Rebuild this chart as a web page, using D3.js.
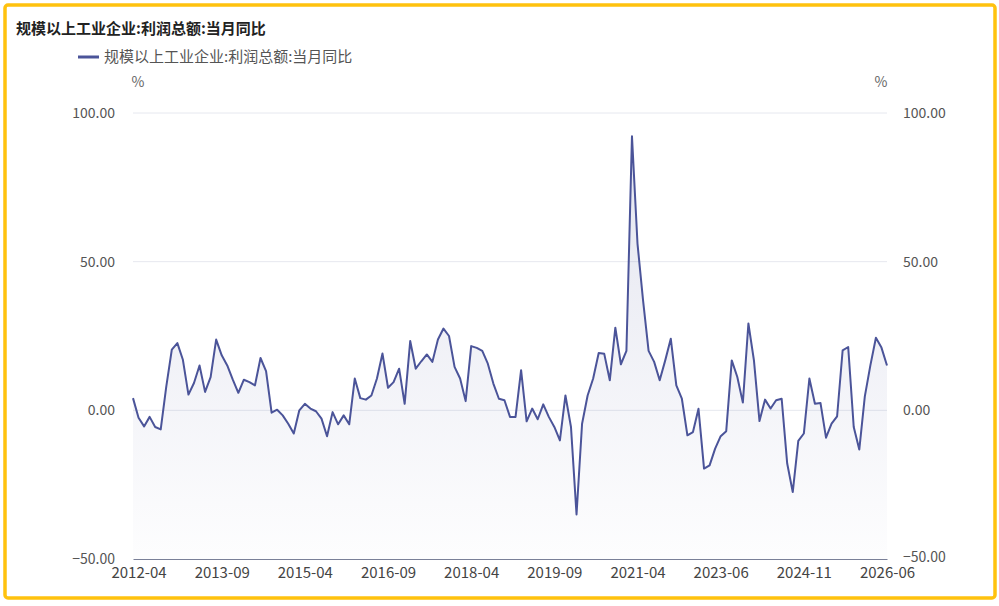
<!DOCTYPE html>
<html>
<head>
<meta charset="utf-8">
<script src="https://cdn.jsdelivr.net/npm/d3@7"></script>
<style>
  html, body { margin: 0; padding: 0; background: #fff; }
  svg { display: block; font-family: "Noto Sans CJK SC", "Noto Sans", sans-serif; }
</style>
</head>
<body>
<svg id="chart" width="999" height="606"></svg>
<script>
// 数据：月度，缺 1、2 月（以及 2022 下半年）
var seriesName = "规模以上工业企业:利润总额:当月同比";
var dates = [
  "2012-03","2012-04","2012-05","2012-06","2012-07","2012-08","2012-09","2012-10","2012-11","2012-12",
  "2013-03","2013-04","2013-05","2013-06","2013-07","2013-08","2013-09","2013-10","2013-11","2013-12",
  "2014-03","2014-04","2014-05","2014-06","2014-07","2014-08","2014-09","2014-10","2014-11","2014-12",
  "2015-03","2015-04","2015-05","2015-06","2015-07","2015-08","2015-09","2015-10","2015-11","2015-12",
  "2016-03","2016-04","2016-05","2016-06","2016-07","2016-08","2016-09","2016-10","2016-11","2016-12",
  "2017-03","2017-04","2017-05","2017-06","2017-07","2017-08","2017-09","2017-10","2017-11","2017-12",
  "2018-03","2018-04","2018-05","2018-06","2018-07","2018-08","2018-09","2018-10","2018-11","2018-12",
  "2019-03","2019-04","2019-05","2019-06","2019-07","2019-08","2019-09","2019-10","2019-11","2019-12",
  "2020-03","2020-04","2020-05","2020-06","2020-07","2020-08","2020-09","2020-10","2020-11","2020-12",
  "2021-03","2021-04","2021-05","2021-06","2021-07","2021-08","2021-09","2021-10","2021-11","2021-12",
  "2022-04","2022-05","2022-06",
  "2023-03","2023-04","2023-05","2023-06","2023-07","2023-08","2023-09","2023-10","2023-11","2023-12",
  "2024-03","2024-04","2024-05","2024-06","2024-07","2024-08","2024-09","2024-10","2024-11","2024-12",
  "2025-03","2025-04","2025-05","2025-06","2025-07","2025-08","2025-09","2025-10","2025-11","2025-12",
  "2026-03","2026-04","2026-05","2026-06"
];
var values = [
  4.1, -2.5, -5.4, -2.2, -5.6, -6.4, 8.0, 20.4, 22.6, 17.0,
  5.3, 9.2, 15.1, 6.2, 11.2, 23.8, 18.5, 15.1, 10.3, 5.9,
  10.3, 9.5, 8.4, 17.6, 13.2, -0.8, 0.2, -1.7, -4.5, -7.8,
  0.0, 2.2, 0.6, -0.3, -2.8, -8.7, -0.6, -4.7, -1.7, -4.7,
  10.7, 4.1, 3.6, 5.0, 10.7, 19.1, 7.6, 9.5, 14.0, 2.2,
  23.3, 14.0, 16.5, 18.8, 16.3, 23.8, 27.5, 25.0, 14.6, 10.7,
  3.1, 21.6, 21.0, 20.0, 15.7, 9.0, 3.9, 3.4, -2.2, -2.2,
  13.5, -3.7, 0.6, -3.0, 2.0, -2.2, -5.6, -10.1, 5.0, -5.6,
  -35.0, -4.5, 5.0, 10.7, 19.3, 19.0, 10.1, 27.8, 15.5, 20.0,
  92.2, 56.0, 37.0, 20.0, 16.3, 10.1, 16.8, 24.1, 8.4, 3.9,
  -8.4, -7.3, 0.5,
  -19.6, -18.5, -12.9, -8.7, -7.0, 16.8, 11.2, 2.6, 29.2, 16.8,
  -3.6, 3.6, 0.6, 3.4, 3.9, -17.9, -27.5, -10.3, -7.8, 10.7,
  2.2, 2.5, -9.2, -4.5, -2.0, 20.2, 21.3, -5.6, -13.2, 4.7,
  15.1, 24.4, 21.1, 15.1
];
var yTicks = [-50, 0, 50, 100];
var labelStep = 15;   // 每 15 个点一个横轴标签

var svg = d3.select("#chart");
var lineColor = "#4b5499";
var plot = { left: 133, right: 887, top: 113, bottom: 559 };

// 黄色外框
svg.append("rect")
  .attr("x", 5).attr("y", 5)
  .attr("width", 990).attr("height", 593)
  .attr("rx", 3)
  .attr("fill", "#fff")
  .attr("stroke", "#ffc20e")
  .attr("stroke-width", 3.5);

// 标题
svg.append("text")
  .attr("x", 16).attr("y", 34)
  .attr("font-size", 15).attr("font-weight", "bold")
  .attr("fill", "#222")
  .text(seriesName);

// 图例
svg.append("line")
  .attr("x1", 78).attr("x2", 99).attr("y1", 57).attr("y2", 57)
  .attr("stroke", lineColor).attr("stroke-width", 3);
svg.append("text")
  .attr("x", 104).attr("y", 62)
  .attr("font-size", 15).attr("fill", "#555")
  .text(seriesName);

var x = d3.scalePoint().domain(dates).range([plot.left, plot.right]);
var y = d3.scaleLinear().domain([-50, 100]).range([plot.bottom, plot.top]);

// 单位
svg.append("text").attr("x", 138).attr("y", 87)
  .attr("text-anchor", "middle").attr("font-size", 14).attr("fill", "#666").text("%");
svg.append("text").attr("x", 881).attr("y", 87)
  .attr("text-anchor", "middle").attr("font-size", 14).attr("fill", "#666").text("%");

// 网格线
svg.append("g").selectAll("line")
  .data(yTicks.filter(function (d) { return d > -50; }))
  .enter().append("line")
  .attr("x1", plot.left).attr("x2", plot.right)
  .attr("y1", function (d) { return y(d); })
  .attr("y2", function (d) { return y(d); })
  .attr("stroke", "#e6e8ef").attr("stroke-width", 1);

// 左右 y 轴
var fmt = d3.format(".2f");
var yLeft = svg.append("g")
  .attr("transform", "translate(" + (plot.left - 15) + ",0)")
  .call(d3.axisLeft(y).tickValues(yTicks).tickFormat(fmt).tickSize(0));
var yRight = svg.append("g")
  .attr("transform", "translate(" + (plot.right + 13) + ",0)")
  .call(d3.axisRight(y).tickValues(yTicks).tickFormat(fmt).tickSize(0));
[yLeft, yRight].forEach(function (g) {
  g.select(".domain").remove();
  g.selectAll("text")
    .attr("font-size", 14).attr("fill", "#555")
    .attr("font-family", "Noto Sans CJK SC, sans-serif");
});
// 右侧 -50.00 稍上移，避免与末尾日期标签相碰
yRight.selectAll(".tick").filter(function (d) { return d === -50; })
  .select("text").attr("dy", "0.2em");

// 面积渐变
var defs = svg.append("defs");
var grad = defs.append("linearGradient")
  .attr("id", "areaGrad")
  .attr("gradientUnits", "userSpaceOnUse")
  .attr("x1", 0).attr("x2", 0)
  .attr("y1", y(d3.max(values))).attr("y2", plot.bottom);
grad.append("stop").attr("offset", "0%").attr("stop-color", lineColor).attr("stop-opacity", 0.15);
grad.append("stop").attr("offset", "100%").attr("stop-color", lineColor).attr("stop-opacity", 0.01);

var area = d3.area()
  .x(function (d, i) { return x(dates[i]); })
  .y0(plot.bottom)
  .y1(function (d) { return y(d); });
svg.append("path")
  .datum(values)
  .attr("d", area)
  .attr("fill", "url(#areaGrad)");

// 横轴
var xAxis = svg.append("g")
  .attr("transform", "translate(0," + plot.bottom + ")")
  .call(d3.axisBottom(x)
    .tickValues(dates.filter(function (d, i) { return i % labelStep === 1; }))
    .tickSize(0).tickPadding(8));
xAxis.select(".domain").attr("stroke", "#7a8098").attr("stroke-width", 1);
xAxis.selectAll("text")
  .attr("font-size", 15).attr("fill", "#444")
  .attr("font-family", "Noto Sans CJK SC, sans-serif");

// 折线
var line = d3.line()
  .x(function (d, i) { return x(dates[i]); })
  .y(function (d) { return y(d); });
svg.append("path")
  .datum(values)
  .attr("d", line)
  .attr("fill", "none")
  .attr("stroke", lineColor)
  .attr("stroke-width", 2)
  .attr("stroke-linejoin", "round");
</script>
</body>
</html>
